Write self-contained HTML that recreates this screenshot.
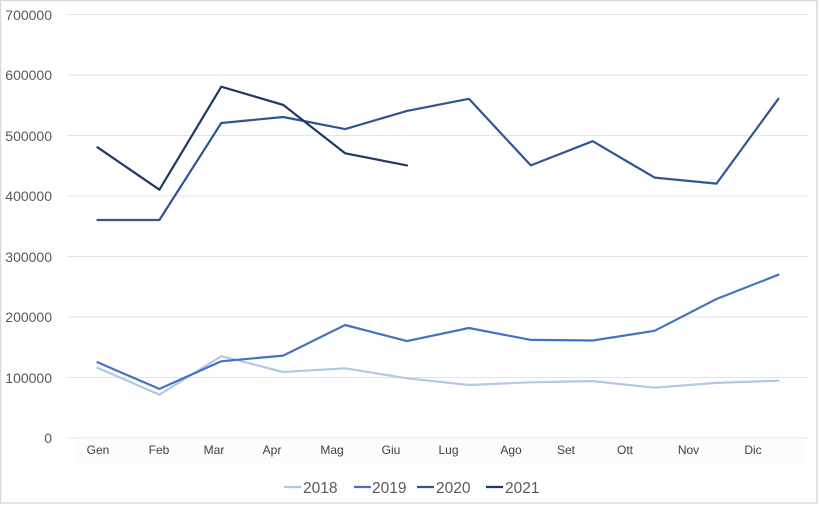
<!DOCTYPE html>
<html><head><meta charset="utf-8"><style>
html,body{margin:0;padding:0;background:#fff;}
svg{display:block;}
</style></head><body>
<svg width="820" height="505" viewBox="0 0 820 505" xmlns="http://www.w3.org/2000/svg">
<rect x="0" y="0" width="820" height="505" fill="#fff"/>
<rect x="0.5" y="0.5" width="816.5" height="502.5" fill="none" stroke="#d9d9d9" stroke-width="1.5"/>
<!-- x label band -->
<rect x="77" y="439" width="725" height="26" fill="#fcfcfc"/>
<!-- gridlines -->
<g stroke="#e3e3e3" stroke-width="1">
<line x1="67" y1="14.5" x2="809" y2="14.5"/>
<line x1="67" y1="75" x2="809" y2="75"/>
<line x1="67" y1="135.5" x2="809" y2="135.5"/>
<line x1="67" y1="196" x2="809" y2="196"/>
<line x1="67" y1="256.5" x2="809" y2="256.5"/>
<line x1="67" y1="317" x2="809" y2="317"/>
<line x1="67" y1="377.5" x2="809" y2="377.5"/>
<line x1="67" y1="438" x2="809" y2="438"/>
</g>
<g font-family="Liberation Sans, Arial, sans-serif" font-size="14" fill="#595959" text-anchor="end">
<text x="52" y="20">700000</text>
<text x="52" y="80">600000</text>
<text x="52" y="141">500000</text>
<text x="52" y="201">400000</text>
<text x="52" y="262">300000</text>
<text x="52" y="322">200000</text>
<text x="52" y="383">100000</text>
<text x="52" y="443">0</text>
</g>
<g font-family="Liberation Sans, Arial, sans-serif" font-size="12" fill="#404040" text-anchor="middle">
<text x="98" y="454">Gen</text>
<text x="159" y="454">Feb</text>
<text x="214" y="454">Mar</text>
<text x="272" y="454">Apr</text>
<text x="332" y="454">Mag</text>
<text x="391" y="454">Giu</text>
<text x="448.5" y="454">Lug</text>
<text x="511" y="454">Ago</text>
<text x="566" y="454">Set</text>
<text x="625" y="454">Ott</text>
<text x="688.5" y="454">Nov</text>
<text x="753" y="454">Dic</text>
</g>
<g fill="none" stroke-width="2.2" stroke-linejoin="round" stroke-linecap="round">
<polyline stroke="#b4c7e7" points="97.5,367.7 159.4,394.7 221.3,356.2 283.2,372 345.1,368.3 407,378.3 468.9,385 530.8,382.3 592.7,381.1 654.6,387.7 716.5,382.9 778.4,380.7"/>
<polyline stroke="#4472c4" points="97.5,362.3 159.4,388.9 221.3,361.3 283.2,355.6 345.1,325 407,341.1 468.9,328 530.8,339.9 592.7,340.5 654.6,330.8 716.5,299 778.4,274.7"/>
<polyline stroke="#2f5597" points="97.5,220 159.4,220 221.3,123 283.2,117 345.1,129.1 407,110.9 468.9,98.8 530.8,165.4 592.7,141.2 654.6,177.6 716.5,183.6 778.4,98.8"/>
<polyline stroke="#1f3864" points="97.5,147.3 159.4,189.7 221.3,86.7 283.2,104.9 345.1,153.3 407,165.4"/>
</g>
<!-- legend -->
<g stroke-width="2.2">
<line x1="284" y1="487" x2="301" y2="487" stroke="#b4c7e7"/>
<line x1="354" y1="487" x2="371" y2="487" stroke="#4472c4"/>
<line x1="417" y1="487" x2="434" y2="487" stroke="#2f5597"/>
<line x1="486" y1="487" x2="503" y2="487" stroke="#1f3864"/>
</g>
<g font-family="Liberation Sans, Arial, sans-serif" font-size="15.5" fill="#595959">
<text x="303" y="493">2018</text>
<text x="372" y="493">2019</text>
<text x="436" y="493">2020</text>
<text x="505" y="493">2021</text>
</g>
</svg>
</body></html>
